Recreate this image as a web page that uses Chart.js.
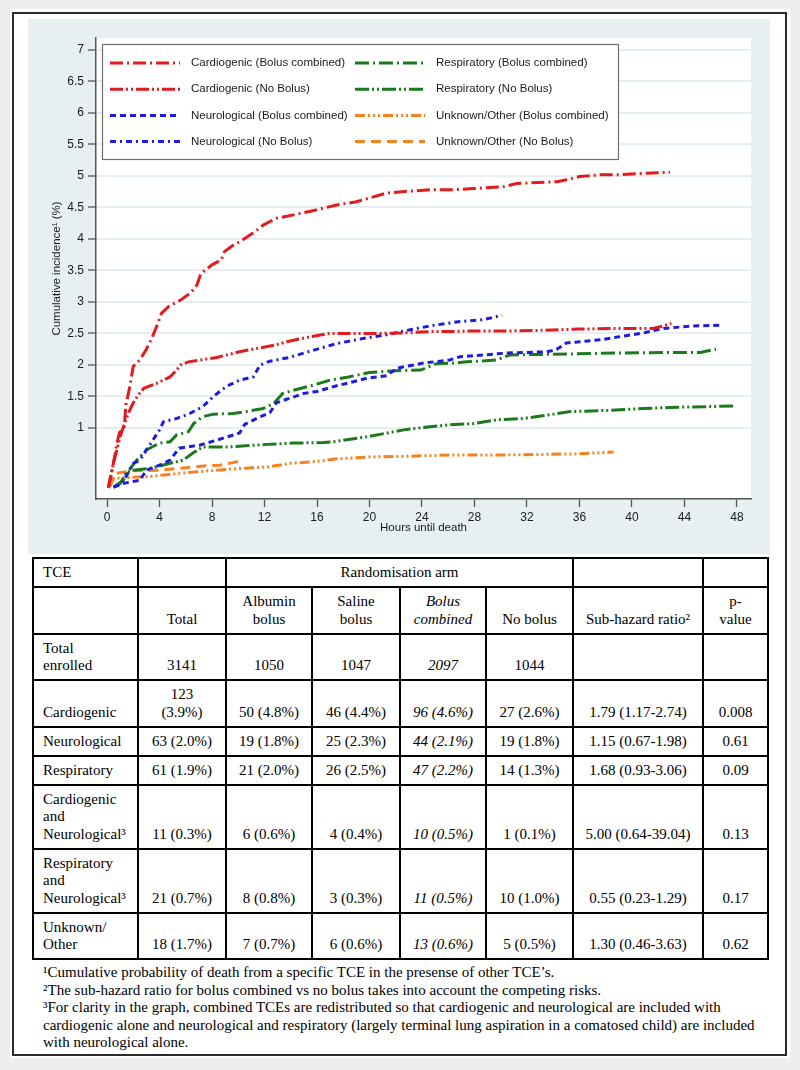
<!DOCTYPE html>
<html>
<head>
<meta charset="utf-8">
<script src="https://cdn.jsdelivr.net/npm/chart.js@4.4.1/dist/chart.umd.min.js"></script>
<style>
  html, body { margin: 0; padding: 0; background: #eeeeee; }
  body { width: 800px; height: 1070px; position: relative; overflow: hidden; }
  #sheet { position: absolute; left: 10px; top: 9px; width: 780px; height: 1049px; background: #fff; }
  #frame { position: absolute; left: 12px; top: 12px; width: 771px; height: 1040px; border: 2px solid #2b2b2b; background: #fff; }
  #chartWrap { position: absolute; left: 28px; top: 19px; width: 742px; height: 535px; background: #e8eff2; }
  #tce { position: absolute; left: 32px; top: 557px; width: 735px; border-collapse: collapse; table-layout: fixed;
         font-family: "Liberation Serif", "Times New Roman", serif; font-size: 15px; line-height: 17.5px; color: #000; }
  #tce td { border: 2px solid #000; padding: 5px 9px 4.5px 9px; vertical-align: bottom; text-align: center; white-space: nowrap; }
  #tce td.lab { text-align: left; }
  #tce td.it { font-style: italic; }
  #notes { position: absolute; left: 43px; top: 964px; font-family: "Liberation Serif", "Times New Roman", serif;
           font-size: 15px; line-height: 17.5px; color: #000; white-space: nowrap; }
</style>
</head>
<body>
<div id="sheet"></div>
<div id="frame"></div>
<div id="chartWrap"><canvas id="cifChart"></canvas></div>
<table id="tce"></table>
<div id="notes">
¹Cumulative probability of death from a specific TCE in the presense of other TCE’s.<br>
²The sub-hazard ratio for bolus combined vs no bolus takes into account the competing risks.<br>
³For clarity in the graph, combined TCEs are redistributed so that cardiogenic and neurological are included with<br>
cardiogenic alone and neurological and respiratory (largely terminal lung aspiration in a comatosed child) are included<br>
with neurological alone.
</div>
<script>
// tick labels
const xTicks = [0, 4, 8, 12, 16, 20, 24, 28, 32, 36, 40, 44, 48];
const yTicks = [1, 1.5, 2, 2.5, 3, 3.5, 4, 4.5, 5, 5.5, 6, 6.5, 7];

// cumulative incidence (%) against hours until death
const cardBolusHours = [0.1, 0.45, 0.75, 0.95, 1.3, 1.45, 1.7, 2.0, 2.5, 3.0, 3.4, 3.8, 4.15, 4.7, 5.6, 6.4, 6.85, 7.15, 8.0, 8.7, 8.95, 9.6, 10.3, 11.3, 11.9, 12.9, 13.7, 15.5, 17.5, 19.0, 20.0, 21.3, 23.1, 24.6, 26.1, 27.9, 30.2, 31.2, 34.3, 35.0, 36.0, 37.6, 39.1, 40.8, 42.9];
const cardBolusPct   = [0.05, 0.4, 0.75, 0.93, 1.0, 1.38, 1.62, 1.98, 2.08, 2.25, 2.42, 2.62, 2.82, 2.93, 3.03, 3.15, 3.27, 3.45, 3.59, 3.67, 3.80, 3.90, 3.98, 4.12, 4.22, 4.33, 4.36, 4.44, 4.54, 4.59, 4.65, 4.73, 4.76, 4.78, 4.78, 4.80, 4.83, 4.88, 4.91, 4.94, 4.99, 5.02, 5.02, 5.04, 5.06];

const cardNoHours = [0.1, 0.5, 1.0, 1.3, 1.62, 2.0, 2.4, 2.8, 3.8, 4.8, 5.3, 5.6, 6.2, 8.35, 10.1, 11.35, 12.9, 13.7, 15.5, 16.9, 18.8, 20.8, 22.6, 24.6, 26.1, 27.9, 30.5, 33.0, 36.0, 39.1, 41.6, 42.4, 43.0];
const cardNoPct   = [0.05, 0.45, 0.86, 1.05, 1.23, 1.40, 1.53, 1.63, 1.71, 1.81, 1.92, 2.0, 2.05, 2.12, 2.21, 2.26, 2.32, 2.37, 2.45, 2.50, 2.50, 2.50, 2.51, 2.53, 2.53, 2.54, 2.54, 2.55, 2.57, 2.58, 2.58, 2.62, 2.66];

const neuroBolusHours = [0.5, 1.24, 2.5, 3.0, 4.0, 4.8, 5.5, 7.1, 8.4, 10.1, 10.5, 11.7, 12.4, 12.9, 13.9, 15.0, 16.0, 17.5, 18.3, 19.8, 21.3, 22.1, 24.1, 26.1, 26.9, 30.5, 33.5, 34.2, 35.0, 37.6, 39.1, 40.9, 42.4, 44.7, 46.7];
const neuroBolusPct   = [0.06, 0.12, 0.17, 0.33, 0.41, 0.49, 0.68, 0.73, 0.81, 0.92, 1.06, 1.18, 1.24, 1.40, 1.47, 1.55, 1.58, 1.67, 1.71, 1.79, 1.83, 1.95, 2.03, 2.08, 2.13, 2.19, 2.21, 2.24, 2.35, 2.40, 2.45, 2.51, 2.58, 2.62, 2.63];

const neuroNoHours = [0.5, 1.2, 2.0, 2.5, 3.0, 4.0, 4.3, 5.3, 6.3, 7.3, 8.1, 9.1, 10.1, 11.15, 11.66, 12.4, 13.9, 15.5, 17.5, 19.5, 21.3, 23.1, 24.9, 26.9, 28.7, 30.1];
const neuroNoPct   = [0.06, 0.13, 0.44, 0.49, 0.65, 0.97, 1.10, 1.15, 1.23, 1.34, 1.50, 1.66, 1.76, 1.81, 2.0, 2.06, 2.12, 2.22, 2.34, 2.42, 2.48, 2.56, 2.63, 2.69, 2.72, 2.79];

const respBolusHours = [0.5, 1.24, 1.5, 2.26, 3.0, 4.0, 4.8, 5.3, 6.2, 6.6, 7.3, 8.1, 9.6, 10.6, 11.9, 12.7, 13.4, 14.2, 15.7, 17.0, 18.4, 20.0, 22.0, 23.9, 25.1, 26.4, 27.4, 29.7, 30.7, 33.8, 39.1, 43.4, 45.2, 46.4];
const respBolusPct   = [0.06, 0.17, 0.28, 0.49, 0.65, 0.76, 0.78, 0.89, 0.94, 1.07, 1.18, 1.22, 1.23, 1.26, 1.31, 1.39, 1.55, 1.60, 1.68, 1.76, 1.81, 1.88, 1.91, 1.92, 2.02, 2.03, 2.05, 2.08, 2.16, 2.17, 2.19, 2.20, 2.20, 2.25];

const respNoHours = [0.5, 1.0, 1.5, 2.0, 3.3, 4.8, 5.8, 6.6, 7.3, 9.3, 12.2, 14.2, 16.5, 17.2, 19.8, 22.6, 24.6, 26.1, 27.9, 29.7, 31.7, 34.0, 35.3, 38.3, 40.9, 43.4, 45.9, 47.7];
const respNoPct   = [0.06, 0.12, 0.30, 0.33, 0.36, 0.44, 0.49, 0.61, 0.70, 0.70, 0.74, 0.76, 0.77, 0.78, 0.86, 0.97, 1.02, 1.05, 1.07, 1.13, 1.15, 1.22, 1.26, 1.28, 1.31, 1.33, 1.34, 1.35];

const unkBolusHours = [0.2, 0.5, 2.0, 3.3, 5.0, 7.1, 9.6, 12.2, 14.0, 16.0, 17.5, 20.0, 22.6, 26.1, 29.2, 33.0, 36.0, 37.6, 38.6];
const unkBolusPct   = [0.07, 0.20, 0.22, 0.23, 0.27, 0.31, 0.35, 0.38, 0.44, 0.47, 0.51, 0.54, 0.55, 0.57, 0.57, 0.58, 0.59, 0.61, 0.62];

const unkNoHours = [0.2, 0.6, 2.0, 4.0, 6.1, 7.6, 8.6, 9.6, 10.2];
const unkNoPct   = [0.07, 0.28, 0.32, 0.33, 0.37, 0.40, 0.41, 0.45, 0.48];

// table below the graph
const tceLabels   = ['Total\nenrolled', 'Cardiogenic', 'Neurological', 'Respiratory', 'Cardiogenic\nand\nNeurological³', 'Respiratory\nand\nNeurological³', 'Unknown/\nOther'];
const totalCol    = ['3141', '123\n(3.9%)', '63 (2.0%)', '61 (1.9%)', '11 (0.3%)', '21 (0.7%)', '18 (1.7%)'];
const albuminCol  = ['1050', '50 (4.8%)', '19 (1.8%)', '21 (2.0%)', '6 (0.6%)', '8 (0.8%)', '7 (0.7%)'];
const salineCol   = ['1047', '46 (4.4%)', '25 (2.3%)', '26 (2.5%)', '4 (0.4%)', '3 (0.3%)', '6 (0.6%)'];
const combinedCol = ['2097', '96 (4.6%)', '44 (2.1%)', '47 (2.2%)', '10 (0.5%)', '11 (0.5%)', '13 (0.6%)'];
const noBolusCol  = ['1044', '27 (2.6%)', '19 (1.8%)', '14 (1.3%)', '1 (0.1%)', '10 (1.0%)', '5 (0.5%)'];
const shrCol      = ['', '1.79 (1.17-2.74)', '1.15 (0.67-1.98)', '1.68 (0.93-3.06)', '5.00 (0.64-39.04)', '0.55 (0.23-1.29)', '1.30 (0.46-3.63)'];
const pCol        = ['', '0.008', '0.61', '0.09', '0.13', '0.17', '0.62'];

const colWidths = [105, 88, 86, 88, 86, 87, 130, 65];

const br = s => s.replace(/\n/g, '<br>');
let html = '<colgroup>' + colWidths.map(w => `<col style="width:${w}px">`).join('') + '</colgroup>';
html += '<tr><td class="lab">TCE</td><td></td><td colspan="4">Randomisation arm</td><td></td><td></td></tr>';
html += '<tr><td></td><td>Total</td><td>Albumin<br>bolus</td><td>Saline<br>bolus</td><td class="it">Bolus<br>combined</td><td>No bolus</td><td>Sub-hazard ratio²</td><td>p-<br>value</td></tr>';
tceLabels.forEach((lab, i) => {
    html += `<tr><td class="lab">${br(lab)}</td><td>${br(totalCol[i])}</td><td>${albuminCol[i]}</td><td>${salineCol[i]}</td>` +
            `<td class="it">${combinedCol[i]}</td><td>${noBolusCol[i]}</td><td>${shrCol[i]}</td><td>${pCol[i]}</td></tr>`;
});
document.getElementById('tce').innerHTML = html;

const pts = (xs, ys) => xs.map((x, i) => ({ x: x, y: ys[i] }));

const red = '#e31b1e';
const blue = '#1c1ce0';
const green = '#1b7a1b';
const orange = '#f5821f';

function series(label, xs, ys, color, dash) {
    return {
        label: label,
        data: pts(xs, ys),
        borderColor: color,
        backgroundColor: color,
        borderWidth: 3,
        borderDash: dash,
        pointRadius: 0,
        tension: 0,
        fill: false
    };
}

// white plot region on the bluish graph region
const plotBg = {
    id: 'plotBg',
    beforeDraw(chart) {
        const { ctx, chartArea: a } = chart;
        ctx.save();
        ctx.fillStyle = '#ffffff';
        ctx.fillRect(a.left, a.top, a.right - a.left, a.bottom - a.top);
        ctx.restore();
    }
};

// two-column boxed legend inside the plot (column-major order)
const boxLegend = {
    id: 'boxLegend',
    afterDatasetsDraw(chart) {
        const { ctx, chartArea } = chart;
        const left = chartArea.left + 6, top = chartArea.top + 6;
        const w = 516, h = 115;
        ctx.save();
        ctx.fillStyle = '#ffffff';
        ctx.fillRect(left, top, w, h);
        ctx.strokeStyle = '#6e6e6e';
        ctx.lineWidth = 1.2;
        ctx.strokeRect(left + 0.5, top + 0.5, w, h);
        ctx.font = '11.5px "Liberation Sans", Arial, sans-serif';
        ctx.textBaseline = 'middle';
        chart.data.datasets.forEach((ds, i) => {
            const col = Math.floor(i / 4), row = i % 4;
            const y = top + 19 + row * 26.2;
            const x0 = left + 8 + col * 245;
            ctx.beginPath();
            ctx.setLineDash(ds.borderDash);
            ctx.strokeStyle = ds.borderColor;
            ctx.lineWidth = ds.borderWidth;
            ctx.moveTo(x0, y);
            ctx.lineTo(x0 + 70, y);
            ctx.stroke();
            ctx.setLineDash([]);
            ctx.fillStyle = '#1a1a1a';
            ctx.fillText(ds.label, x0 + 81, y);
        });
        ctx.restore();
    }
};

const axisFont = { family: '"Liberation Sans", Arial, sans-serif', size: 12 };
const titleFont = { family: '"Liberation Sans", Arial, sans-serif', size: 11.5 };

new Chart(document.getElementById('cifChart'), {
    type: 'line',
    data: {
        datasets: [
            series('Cardiogenic (Bolus combined)', cardBolusHours, cardBolusPct, red, [13, 4, 2, 4]),
            series('Cardiogenic (No Bolus)', cardNoHours, cardNoPct, red, [13, 3, 2, 3, 2, 3]),
            series('Neurological (Bolus combined)', neuroBolusHours, neuroBolusPct, blue, [6, 4]),
            series('Neurological (No Bolus)', neuroNoHours, neuroNoPct, blue, [6, 4, 2, 4]),
            series('Respiratory (Bolus combined)', respBolusHours, respBolusPct, green, [14, 4, 2, 4]),
            series('Respiratory (No Bolus)', respNoHours, respNoPct, green, [14, 3, 2, 3, 2, 3]),
            series('Unknown/Other (Bolus combined)', unkBolusHours, unkBolusPct, orange, [10, 3, 2, 3, 2, 3, 2, 3]),
            series('Unknown/Other (No Bolus)', unkNoHours, unkNoPct, orange, [10, 6])
        ]
    },
    options: {
        responsive: true,
        maintainAspectRatio: false,
        animation: false,
        layout: { padding: { top: 19, right: 19, left: 0, bottom: 0 } },
        plugins: {
            legend: { display: false },
            tooltip: { enabled: false }
        },
        scales: {
            x: {
                type: 'linear',
                min: -0.84,
                max: 49.07,
                afterBuildTicks: s => { s.ticks = xTicks.map(v => ({ value: v })); },
                afterFit: s => { s.height = 55; },
                ticks: { font: axisFont, color: '#1a1a1a', padding: 3, maxRotation: 0, autoSkip: false, callback: v => String(v) },
                grid: { drawOnChartArea: false, tickLength: 8, tickColor: '#555', tickWidth: 1.3 },
                border: { color: '#555', width: 1.5 },
                title: { display: true, text: 'Hours until death', font: titleFont, color: '#1a1a1a', padding: { top: 0, bottom: 19 } }
            },
            y: {
                min: -0.127,
                max: 7.19,
                afterBuildTicks: s => { s.ticks = yTicks.map(v => ({ value: v })); },
                afterFit: s => { s.width = 68; },
                ticks: { font: axisFont, color: '#1a1a1a', padding: 4, autoSkip: false, callback: v => String(v) },
                grid: { color: '#e6eef1', lineWidth: 2, tickLength: 8, tickColor: '#555', tickWidth: 1.3 },
                border: { color: '#555', width: 1.5 },
                title: { display: true, text: 'Cumulative incidence¹ (%)', font: titleFont, color: '#1a1a1a', padding: { top: 22, bottom: 0 } }
            }
        }
    },
    plugins: [plotBg, boxLegend]
});
</script>
</body>
</html>
